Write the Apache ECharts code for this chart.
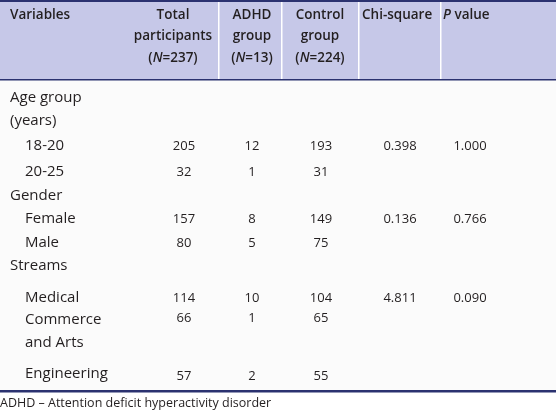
<!DOCTYPE html>
<html><head><meta charset="utf-8">
<script src="https://cdn.jsdelivr.net/npm/echarts@6/dist/echarts.min.js"></script>
<style>html,body{margin:0;padding:0;background:#fff}#c{width:556px;height:412px}</style>
</head><body><div id="c"></div>
<script>
const headers = [["Variables"],["Total","participants","(N=237)"],["ADHD","group","(N=13)"],["Control","group","(N=224)"],["Chi-square"],["P value"]];
const rowLabels = ["Age group","(years)","18-20","20-25","Gender","Female","Male","Streams","Medical","Commerce","and Arts","Engineering"];
const rowIndent = [0,0,1,1,0,1,1,0,1,1,1,1];
const totals = ["","","205","32","","157","80","","114","66","","57"];
const adhd = ["","","12","1","","8","5","","10","1","","2"];
const control = ["","","193","31","","149","75","","104","65","","55"];
const chi = ["","","0.398","","","0.136","","","4.811","","",""];
const pval = ["","","1.000","","","0.766","","","0.090","","",""];
const footnote = "ADHD – Attention deficit hyperactivity disorder";

const F = "'Open Sans', sans-serif", C = "#231f20";
const rowY = [98,121,146,172,196,219,243,266,298,320,343,374];
const numY = [0,0,146,172,0,219,243,0,298,318,0,376];
const colX = [184,252,321,400,470];
const seps = [218,281,358,440];
const g = [];
g.push({type:'rect',shape:{x:0,y:0,width:556,height:80},style:{fill:'#c6c8e8'}});
g.push({type:'rect',shape:{x:0,y:80,width:556,height:311},style:{fill:'#fbfbfb'}});
seps.forEach(x=>g.push({type:'rect',shape:{x:x,y:2,width:1.5,height:78},style:{fill:'#ffffff'}}));
g.push({type:'rect',shape:{x:0,y:0,width:556,height:2},style:{fill:'#2b3270'}});
g.push({type:'rect',shape:{x:0,y:79,width:556,height:1.5},style:{fill:'#2b3270'}});
g.push({type:'rect',shape:{x:0,y:390,width:556,height:2.5},style:{fill:'#2b3270'}});
const hx = [10,173,252,320,362,443];
const hAlign = ['left','center','center','center','left','left'];
headers.forEach((h,i)=>h.forEach((t,j)=>{
  let text = t;
  if (t.startsWith('(N=')) { text = '({i|N}' + t.slice(2); }
  if (t==='P value') { text='{i|P} value'; }
  g.push({type:'text',x:hx[i],y:15+j*21.5,style:{text:text,font:'600 13.5px '+F,fill:C,
    align:hAlign[i],verticalAlign:'middle',
    rich:{i:{fontStyle:'italic',fontWeight:600,fontSize:13.5,fontFamily:F,fill:C}}}});
}));
rowLabels.forEach((t,r)=>{
  g.push({type:'text',x:rowIndent[r]?25:10,y:rowY[r],style:{text:t,font:'15px '+F,fill:C,verticalAlign:'middle'}});
  [totals,adhd,control,chi,pval].forEach((arr,c)=>{
    if(arr[r]) g.push({type:'text',x:colX[c],y:numY[r],style:{text:arr[r],font:'13px '+F,fill:C,align:'center',verticalAlign:'middle'}});
  });
});
g.push({type:'text',x:0,y:403,style:{text:footnote,font:'12.5px '+F,fill:C,verticalAlign:'middle'}});
const chart = echarts.init(document.getElementById('c'));
chart.setOption({animation:false,graphic:g});
</script></body></html>
